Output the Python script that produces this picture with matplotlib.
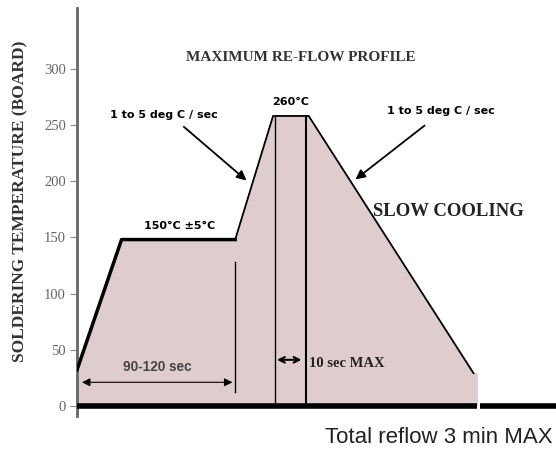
import matplotlib.pyplot as plt

# reflow profile (time in s, temperature in deg C)
time_s = [0, 20, 71, 88, 104, 178]
temp_c = [32, 148, 148, 258, 258, 29]
fill_end = 180
y_ticks = [0, 50, 100, 150, 200, 250, 300]

SERIF = 'Liberation Serif'
SANS = 'Liberation Sans'

fig = plt.figure(figsize=(5.56, 4.49), dpi=100)
ax = fig.add_axes([0.1385, 0.0735, 0.8615, 0.9085])
ax.set_xlim(0, 215)
ax.set_ylim(-9, 354)

# shaded area under the profile
fx = time_s + [fill_end, fill_end, 0]
fy = temp_c + [temp_c[-1], 0, 0]
ax.fill(fx, fy, color='#dfcdcd', lw=0, zorder=1)
ax.plot(time_s[:3], temp_c[:3], color='black', lw=2.5, zorder=3)
ax.plot(time_s[2:], temp_c[2:], color='black', lw=1.3, zorder=3)

# vertical markers
ax.plot([time_s[2], time_s[2]], [12, 128], color='black', lw=1, zorder=3)
ax.plot([time_s[3] + 1, time_s[3] + 1], [0, temp_c[3]], color='black', lw=1, zorder=3)
ax.plot([time_s[4] - 1, time_s[4] - 1], [0, temp_c[4]], color='black', lw=1.5, zorder=3)

# base line with a small gap at the end of the profile
ax.plot([0, fill_end - 0.5], [0, 0], color='black', lw=4, solid_capstyle='butt', zorder=4)
ax.plot([fill_end + 1, 215], [0, 0], color='black', lw=4, solid_capstyle='butt', zorder=4)

for s in ['top', 'right', 'bottom']:
    ax.spines[s].set_visible(False)
ax.spines['left'].set_color('#666666')
ax.spines['left'].set_linewidth(2)
ax.set_xticks([])
ax.set_yticks(y_ticks)
ax.tick_params(axis='y', length=5, color='#888888', labelcolor='#666666',
               labelsize=10.5, pad=3)
for lab in ax.get_yticklabels():
    lab.set_family(SERIF)

fig.text(20 / 556, 1 - 201 / 449, 'SOLDERING TEMPERATURE (BOARD)', family=SERIF,
         fontweight='bold', fontsize=12.5, color='#333333', rotation=90,
         ha='center', va='center')

ax.text(100.6, 310, 'MAXIMUM RE-FLOW PROFILE', family=SERIF, fontweight='bold',
        fontsize=11, ha='center', va='center', color='#333333')

ax.text(15, 259, '1 to 5 deg C / sec', fontsize=8, fontweight='bold', ha='left', va='center')
ax.annotate('', xy=(77, 199), xytext=(47, 250),
            arrowprops=dict(arrowstyle='-|>', color='black', lw=1.3, mutation_scale=14))
ax.text(139, 262, '1 to 5 deg C / sec', fontsize=8, fontweight='bold', ha='left', va='center')
ax.annotate('', xy=(124, 200), xytext=(157, 251),
            arrowprops=dict(arrowstyle='-|>', color='black', lw=1.3, mutation_scale=14))

ax.text(96, 270, '260°C', fontsize=8, fontweight='bold', ha='center', va='center')
ax.text(46, 160, '150°C ±5°C', fontsize=8, fontweight='bold', ha='center', va='center')
ax.text(133, 173, 'SLOW COOLING', family=SERIF, fontsize=13.5,
        fontweight='bold', ha='left', va='center', color='#222222')

ax.text(36, 35, '90-120 sec', family=SANS, fontsize=9.8, fontweight='bold',
        ha='center', va='center', color='#444444')
ax.annotate('', xy=(1, 21), xytext=(71, 21),
            arrowprops=dict(arrowstyle='<|-|>', color='black', lw=0.8, mutation_scale=12))
ax.annotate('', xy=(88.5, 41), xytext=(102, 41),
            arrowprops=dict(arrowstyle='<->', color='black', lw=1.5, mutation_scale=10))
ax.text(104, 38, '10 sec MAX', family=SERIF, fontsize=10.5, fontweight='bold',
        ha='left', va='center', color='#222222')

fig.text(0.994, 0.025, 'Total reflow 3 min MAX', family=SANS, fontsize=16,
         ha='right', va='center', color='#222222')

fig.savefig('out.png', dpi=100)
